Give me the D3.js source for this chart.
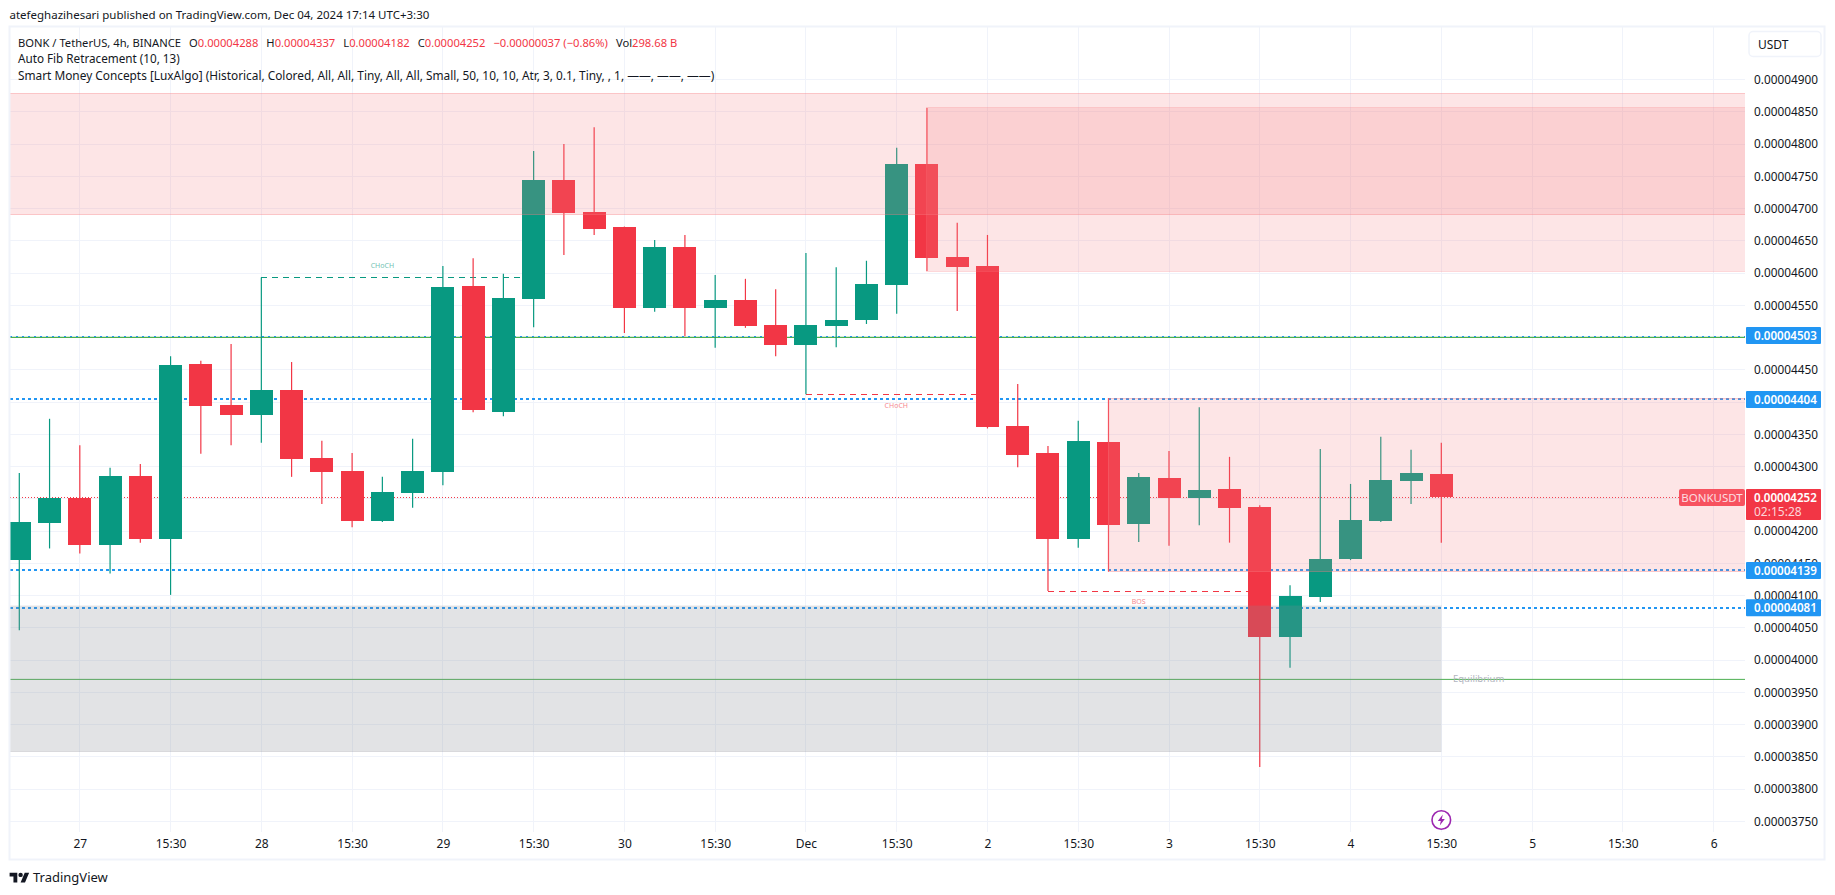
<!DOCTYPE html>
<html>

<head>
	<meta charset="utf-8">
	<script src="https://d3js.org/d3.v7.min.js"></script>
	<title>BONK / TetherUS, 4h</title>
	<style>
		body {
			margin: 0;
			background: #fff;
		}

		text {
			font-family: "Noto Sans", sans-serif;
			fill: #131722;
		}
	</style>
</head>

<body>
	<div id="chart"></div>
	<script>

		// all prices are in units of 0.00000001 USDT
		let opens = [4155, 4213, 4251, 4178, 4285, 4188, 4459, 4395, 4380, 4419, 4313, 4293, 4216, 4259, 4292, 4580,
			4385, 4560, 4744, 4695, 4671, 4546, 4640, 4546, 4558, 4519, 4488, 4518, 4527, 4581, 4769, 4625,
			4611, 4363, 4321, 4188, 4338, 4211, 4282, 4251, 4265, 4237, 4036, 4098, 4157, 4216, 4278, 4288];
		let highs = [4290, 4374, 4333, 4298, 4304, 4471, 4464, 4490, 4593, 4462, 4340, 4321, 4284, 4343, 4611, 4623,
			4599, 4789, 4800, 4826, 4672, 4651, 4659, 4597, 4591, 4575, 4631, 4609, 4619, 4794, 4856, 4678,
			4659, 4428, 4332, 4371, 4406, 4290, 4324, 4392, 4315, 4240, 4116, 4327, 4273, 4346, 4326, 4337];
		let lows = [4046, 4173, 4165, 4134, 4182, 4101, 4320, 4333, 4337, 4284, 4242, 4206, 4214, 4236, 4271, 4384,
			4378, 4516, 4628, 4659, 4507, 4540, 4502, 4484, 4515, 4471, 4412, 4485, 4521, 4537, 4603, 4541,
			4359, 4299, 4107, 4174, 4137, 4183, 4177, 4209, 4182, 3834, 3988, 4090, 4155, 4214, 4242, 4182];
		let closes = [4214, 4251, 4178, 4285, 4188, 4457, 4394, 4380, 4419, 4312, 4292, 4216, 4261, 4293, 4578, 4388,
			4561, 4744, 4693, 4668, 4546, 4640, 4546, 4558, 4518, 4488, 4519, 4527, 4583, 4769, 4623, 4609,
			4361, 4318, 4188, 4340, 4209, 4284, 4251, 4264, 4236, 4036, 4099, 4157, 4217, 4279, 4290, 4252];

		// x axis, ticks sit on candle numbers
		let timeTicks = [2, 5, 8, 11, 14, 17, 20, 23, 26, 29, 32, 35, 38, 41, 44, 47, 50, 53, 56];
		let timeLabels = ["27", "15:30", "28", "15:30", "29", "15:30", "30", "15:30", "Dec", "15:30", "2", "15:30",
			"3", "15:30", "4", "15:30", "5", "15:30", "6"];

		let priceTicks = [3750, 3800, 3850, 3900, 3950, 4000, 4050, 4100, 4150, 4200, 4250, 4300, 4350, 4400, 4450,
			4500, 4550, 4600, 4650, 4700, 4750, 4800, 4850, 4900];

		// order blocks
		let zoneStarts = [-1, 30, 36, -1];
		let zoneEnds = [null, null, null, 47];
		let zoneTops = [4879, 4856, 4406, 4084];
		let zoneBottoms = [4690, 4603, 4137, 3858];
		let zoneKinds = ["bear", "bear", "bear", "grey"];

		// horizontal fib levels with a blue badge
		let levelPrices = [4503, 4404, 4139, 4081];

		// market structure breaks
		let breakNames = ["CHoCH", "CHoCH", "BOS"];
		let breakStarts = [8, 26, 34];
		let breakEnds = [17, 32, 41];
		let breakPrices = [4593, 4412, 4107];
		let breakColors = ["#089981", "#F23645", "#F23645"];

		let lastPrice = 4252;
		let equilibrium = 3970;
		let fibGreen = 4501;

		let width = 1835, height = 895;
		let plot = { left: 10, right: 1745, top: 27, bottom: 832 };
		let up = "#089981", down = "#F23645", blue = "#2196F3";

		let fmt = d => (d / 1e8).toFixed(8);

		let svg = d3.select("#chart").append("svg")
			.attr("width", width)
			.attr("height", height)
			.style("display", "block");

		svg.append("clipPath").attr("id", "plotClip").append("rect")
			.attr("x", plot.left).attr("y", plot.top)
			.attr("width", plot.right - plot.left).attr("height", plot.bottom - plot.top);

		let x = d3.scaleLinear().domain([0, 47]).range([19.3, 1441.3]);
		let y = d3.scaleLinear().domain([3750, 4900]).range([821.3, 79.5]);

		// grid
		let grid = svg.append("g").attr("clip-path", "url(#plotClip)").attr("shape-rendering", "crispEdges");
		grid.selectAll(".v").data(timeTicks).enter().append("line")
			.attr("x1", d => x(d)).attr("x2", d => x(d))
			.attr("y1", plot.top).attr("y2", plot.bottom)
			.attr("stroke", "#f0f3fa");
		grid.selectAll(".h").data(priceTicks).enter().append("line")
			.attr("x1", plot.left).attr("x2", plot.right)
			.attr("y1", d => y(d)).attr("y2", d => y(d))
			.attr("stroke", "#f0f3fa");

		let chart = svg.append("g").attr("clip-path", "url(#plotClip)");

		// level lines, under the candles
		chart.append("line")
			.attr("x1", plot.left).attr("x2", plot.right)
			.attr("y1", y(fibGreen) + 0.5).attr("y2", y(fibGreen) + 0.5)
			.attr("stroke", "#4caf50").attr("stroke-width", 1.2);
		chart.selectAll(".level").data(levelPrices).enter().append("line")
			.attr("x1", plot.left).attr("x2", plot.right)
			.attr("y1", d => Math.round(y(d))).attr("y2", d => Math.round(y(d)))
			.attr("stroke", blue)
			.attr("stroke-width", (d, i) => i == 0 ? 1 : 2)
			.attr("stroke-dasharray", (d, i) => i == 0 ? "2 4" : "2.5 3.5")
			.attr("shape-rendering", "crispEdges");
		chart.append("line")
			.attr("x1", plot.left).attr("x2", plot.right)
			.attr("y1", y(equilibrium)).attr("y2", y(equilibrium))
			.attr("stroke", "#4caf50");
		chart.append("line")
			.attr("x1", plot.left).attr("x2", plot.right)
			.attr("y1", y(lastPrice)).attr("y2", y(lastPrice))
			.attr("stroke", down).attr("stroke-dasharray", "1 2");

		// dashed structure lines
		chart.selectAll(".break").data(breakNames).enter().append("line")
			.attr("x1", (d, i) => x(breakStarts[i])).attr("x2", (d, i) => x(breakEnds[i]))
			.attr("y1", (d, i) => y(breakPrices[i])).attr("y2", (d, i) => y(breakPrices[i]))
			.attr("stroke", (d, i) => breakColors[i])
			.attr("stroke-dasharray", "6 5")
			.attr("shape-rendering", "crispEdges");

		// candles
		let candles = chart.selectAll(".candle").data(opens).enter().append("g");
		candles.append("line")
			.attr("x1", (d, i) => x(i)).attr("x2", (d, i) => x(i))
			.attr("y1", (d, i) => y(highs[i])).attr("y2", (d, i) => y(lows[i]))
			.attr("stroke", (d, i) => closes[i] >= opens[i] ? up : down)
			.attr("stroke-width", 1.2);
		candles.append("rect")
			.attr("x", (d, i) => x(i) - 11.5)
			.attr("width", 23)
			.attr("y", (d, i) => y(Math.max(opens[i], closes[i])))
			.attr("height", (d, i) => Math.abs(y(opens[i]) - y(closes[i])))
			.attr("fill", (d, i) => closes[i] >= opens[i] ? up : down)
			.attr("shape-rendering", "crispEdges");

		// zones go over the candles
		chart.selectAll(".zone").data(zoneTops).enter().append("rect")
			.attr("x", (d, i) => x(zoneStarts[i]))
			.attr("width", (d, i) => (zoneEnds[i] === null ? plot.right : x(zoneEnds[i])) - x(zoneStarts[i]))
			.attr("y", d => y(d))
			.attr("height", (d, i) => y(zoneBottoms[i]) - y(d))
			.attr("fill", (d, i) => zoneKinds[i] == "bear" ? "#f77c80" : "#878b94")
			.attr("fill-opacity", (d, i) => zoneKinds[i] == "bear" ? 0.2 : 0.24)
			.attr("stroke", (d, i) => zoneKinds[i] == "bear" ? "#f77c80" : "#878b94")
			.attr("stroke-opacity", (d, i) => zoneKinds[i] == "bear" ? 0.3 : 0.1)
			.attr("shape-rendering", "crispEdges");

		// tiny labels
		svg.selectAll(".breakLabel").data(breakNames).enter().append("text")
			.attr("x", (d, i) => i == 0 ? x(12) : (i == 1 ? 896.3 : 1138.7))
			.attr("y", (d, i) => y(breakPrices[i]) + (i == 0 ? -11.5 : 11.5))
			.attr("text-anchor", "middle").attr("dominant-baseline", "middle")
			.style("font-size", "7px")
			.style("fill", (d, i) => breakColors[i])
			.style("opacity", 0.6)
			.text(d => d);
		svg.append("text")
			.attr("x", 1453).attr("y", y(equilibrium))
			.attr("dominant-baseline", "middle")
			.style("font-size", "9.5px").style("fill", "#b2b5be")
			.text("Equilibrium");

		// x axis
		let xAxis = svg.append("g")
			.attr("transform", "translate(0," + plot.bottom + ")")
			.call(d3.axisBottom(x).tickValues(timeTicks).tickSize(0).tickPadding(7)
				.tickFormat((d, i) => timeLabels[i]));
		xAxis.select(".domain").remove();
		xAxis.selectAll("text").style("font-size", "12px").style("font-family", "Noto Sans");

		// y axis
		let yAxis = svg.append("g")
			.attr("transform", "translate(" + plot.right + ",0)")
			.call(d3.axisRight(y).tickValues(priceTicks).tickSize(0).tickPadding(9).tickFormat(fmt));
		yAxis.select(".domain").remove();
		yAxis.selectAll("text").style("font-size", "11.8px").style("font-family", "Noto Sans");

		// price badges
		let badges = svg.selectAll(".badge").data(levelPrices).enter().append("g")
			.attr("transform", d => "translate(1746," + y(d) + ")");
		badges.append("rect")
			.attr("y", -8.5).attr("width", 75).attr("height", 17).attr("rx", 1)
			.attr("fill", blue);
		badges.append("text")
			.attr("x", 8).attr("dominant-baseline", "central")
			.style("font-size", "11.6px").style("font-weight", 600).style("fill", "#fff")
			.text(fmt);

		let lastY = y(lastPrice);
		svg.append("rect").attr("x", 1746).attr("y", lastY - 8.5).attr("width", 75).attr("height", 31).attr("rx", 1).attr("fill", down);
		svg.append("text").attr("x", 1754).attr("y", lastY).attr("dominant-baseline", "central")
			.style("font-size", "11.6px").style("font-weight", 600).style("fill", "#fff").text(fmt(lastPrice));
		svg.append("text").attr("x", 1754).attr("y", lastY + 14).attr("dominant-baseline", "central")
			.style("font-size", "12px").style("fill", "#fdd5d9").text("02:15:28");
		svg.append("rect").attr("x", 1679).attr("y", lastY - 8.5).attr("width", 66).attr("height", 17).attr("rx", 2).attr("fill", "#F7525F");
		svg.append("text").attr("x", 1712).attr("y", lastY).attr("text-anchor", "middle").attr("dominant-baseline", "central")
			.style("font-size", "11.5px").style("fill", "#fddde0").text("BONKUSDT");

		// frame and currency button
		svg.append("rect")
			.attr("x", 9.5).attr("y", 26.5).attr("width", 1815).attr("height", 833)
			.attr("fill", "none").attr("stroke", "#f0f3fa").attr("stroke-width", 2);
		svg.append("rect")
			.attr("x", 1749).attr("y", 31.5).attr("width", 72).attr("height", 25).attr("rx", 4)
			.attr("fill", "#fff").attr("stroke", "#f0f3fa").attr("stroke-width", 1.5);
		svg.append("text").attr("x", 1758).attr("y", 44).attr("dominant-baseline", "central")
			.style("font-size", "12px").text("USDT");

		// header and legend
		svg.append("text").attr("x", 9.5).attr("y", 19).style("font-size", "11.5px")
			.text("atefeghazihesari published on TradingView.com, Dec 04, 2024 17:14 UTC+3:30");

		let legend = svg.append("text").attr("x", 18).attr("y", 46.5).style("font-size", "11.2px");
		let legendParts = [["BONK / TetherUS, 4h, BINANCE", 0], ["O", 8], ["0.00004288", 0, 1], ["H", 8], ["0.00004337", 0, 1],
			["L", 8], ["0.00004182", 0, 1], ["C", 8], ["0.00004252", 0, 1], ["\u22120.00000037 (\u22120.86%)", 8, 1],
			["Vol", 8], ["298.68 B", 0, 1]];
		legendParts.forEach(p => {
			let t = legend.append("tspan").attr("dx", p[1]).text(p[0]);
			if (p[2]) t.style("fill", down);
		});
		svg.append("text").attr("x", 18).attr("y", 63).style("font-size", "11.7px")
			.text("Auto Fib Retracement (10, 13)");
		svg.append("text").attr("x", 18).attr("y", 80).style("font-size", "11.85px")
			.text("Smart Money Concepts [LuxAlgo] (Historical, Colored, All, All, Tiny, All, All, Small, 50, 10, 10, Atr, 3, 0.1, Tiny, , 1, \u2014\u2014, \u2014\u2014, \u2014\u2014)");

		// lightning badge on the last bar
		let bolt = svg.append("g").attr("transform", "translate(" + x(47) + ",820)");
		bolt.append("circle").attr("r", 9.3).attr("fill", "#fff").attr("stroke", "#9c27b0").attr("stroke-width", 1.6);
		bolt.append("path").attr("d", "M1.5,-5.5 L-3.5,1 L-0.5,1 L-1.5,5.5 L3.5,-1 L0.5,-1 Z").attr("fill", "#9c27b0");

		// footer logo
		let logo = svg.append("g").attr("transform", "translate(9.6,870.5) scale(0.55)");
		logo.append("path").attr("d", "M14 22H7V11H0V4h14v18zM28 22h-8l7.5-18h8L28 22z").attr("fill", "#131722");
		logo.append("circle").attr("cx", 20).attr("cy", 8).attr("r", 4).attr("fill", "#131722");
		svg.append("text").attr("x", 33).attr("y", 882).style("font-size", "13px").text("TradingView");

	</script>
</body>

</html>
